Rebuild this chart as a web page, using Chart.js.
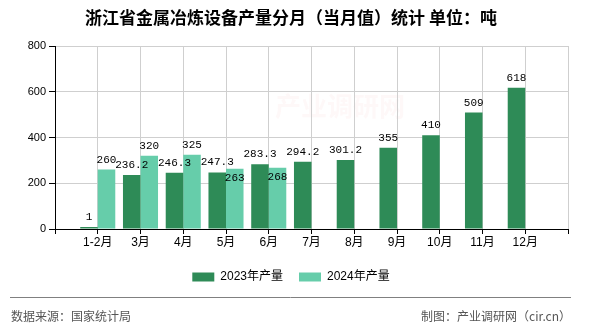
<!DOCTYPE html>
<html>
<head>
<meta charset="utf-8">
<script src="https://cdn.jsdelivr.net/npm/chart.js@4.4.1/dist/chart.umd.min.js"></script>
<style>
    html, body { margin: 0; padding: 0; background: #fff; }
    #wrap { width: 590px; height: 330px; }
</style>
</head>
<body>
<div id="wrap"><canvas id="chart" width="590" height="330"></canvas></div>
<script>
const months = ["1-2月", "3月", "4月", "5月", "6月", "7月", "8月", "9月", "10月", "11月", "12月"];
const output2023 = [1, 236.2, 246.3, 247.3, 283.3, 294.2, 301.2, 355, 410, 509, 618];
const output2024 = [260, 320, 325, 263, 268];
const seriesNames = ["2023年产量", "2024年产量"];
const yTicks = [0, 200, 400, 600, 800];

const FONT = "'Liberation Sans', 'Noto Sans CJK SC', sans-serif";
const CJK = "'Noto Sans CJK SC', 'Liberation Sans', sans-serif";
const LABEL_FONT = "11px 'Liberation Mono', 'DejaVu Sans Mono', monospace";

// empty slot on each side so the months sit on the grid lines
const labels = ["", ...months, ""];
const pad = (arr) => [null, ...months.map((_, i) => (arr[i] === undefined ? null : arr[i])), null];

function overlaps(a, b) {
    return a.l < b.r && b.l < a.r && a.t < b.b && b.t < a.b;
}

// value labels over the bars; a label that would hit an earlier one drops into its bar
const valueLabels = {
    id: "valueLabels",
    afterDatasetsDraw(chart) {
        const ctx = chart.ctx;
        ctx.save();
        ctx.font = LABEL_FONT;
        ctx.fillStyle = "#000";
        ctx.textAlign = "center";
        ctx.textBaseline = "alphabetic";
        const placed = [];
        chart.data.datasets.forEach((ds, di) => {
            const meta = chart.getDatasetMeta(di);
            meta.data.forEach((bar, i) => {
                const v = ds.data[i];
                if (v === null || v === undefined) return;
                const text = String(v);
                const w = ctx.measureText(text).width - 4;
                let base = bar.y - 7;
                let box = { l: bar.x - w / 2, r: bar.x + w / 2, t: base - 8, b: base };
                if (placed.some((p) => overlaps(p, box))) {
                    base = bar.y + 12;
                    box = { l: box.l, r: box.r, t: base - 8, b: base };
                }
                placed.push(box);
                ctx.fillText(text, bar.x, base);
            });
        });
        ctx.restore();
    },
};

const footer = {
    id: "footer",
    beforeDraw(chart) {
        const ctx = chart.ctx;
        ctx.save();
        ctx.font = "bold 26px " + CJK;
        ctx.fillStyle = "rgba(235, 150, 150, 0.07)";
        ctx.textAlign = "center";
        ctx.textBaseline = "middle";
        ctx.fillText("产业调研网", 340, 106);
        ctx.restore();
    },
    afterDraw(chart) {
        const ctx = chart.ctx;
        ctx.save();
        ctx.strokeStyle = "#808080";
        ctx.lineWidth = 1;
        ctx.beginPath();
        ctx.moveTo(10, 297.5);
        ctx.lineTo(571, 297.5);
        ctx.stroke();
        ctx.font = "12px " + CJK;
        ctx.fillStyle = "#555";
        ctx.textBaseline = "middle";
        ctx.textAlign = "left";
        ctx.fillText("数据来源：国家统计局", 11, 316);
        ctx.textAlign = "right";
        ctx.fillText("制图：产业调研网（cir.cn）", 571, 316);
        ctx.restore();
    },
};

new Chart(document.getElementById("chart"), {
    type: "bar",
    data: {
        labels: labels,
        datasets: [
            {
                label: seriesNames[0],
                data: pad(output2023),
                backgroundColor: "#2E8B57",
                categoryPercentage: 0.82,
                barPercentage: 1.0,
                minBarLength: 2,
            },
            {
                label: seriesNames[1],
                data: pad(output2024),
                backgroundColor: "#66CDAA",
                categoryPercentage: 0.82,
                barPercentage: 1.0,
            },
        ],
    },
    options: {
        responsive: false,
        devicePixelRatio: 1,
        animation: false,
        layout: { padding: { left: 14, right: 22, top: 0, bottom: 37 } },
        plugins: {
            title: {
                display: true,
                text: "浙江省金属冶炼设备产量分月（当月值）统计 单位：吨",
                color: "#000",
                font: { size: 17, weight: "bold", family: CJK },
                padding: { top: 7, bottom: 18.6 },
            },
            legend: {
                position: "bottom",
                labels: {
                    boxWidth: 22,
                    boxHeight: 9,
                    padding: 16,
                    color: "#000",
                    font: { size: 12, family: FONT },
                },
            },
            tooltip: { enabled: false },
        },
        scales: {
            x: {
                offset: false,
                grid: { color: "#cfcfcf", offset: false, tickColor: "#000", tickLength: 5 },
                border: { color: "#000" },
                ticks: {
                    color: "#000",
                    autoSkip: false,
                    maxRotation: 0,
                    padding: 1,
                    font: { size: 12, family: FONT },
                },
                afterFit: (scale) => { scale.height = 26; },
            },
            y: {
                min: yTicks[0],
                max: yTicks[yTicks.length - 1],
                grid: { color: "#cfcfcf", tickColor: "#000", tickLength: 6 },
                border: { color: "#000" },
                ticks: {
                    stepSize: yTicks[1] - yTicks[0],
                    color: "#000",
                    padding: 3,
                    font: { size: 11, family: FONT },
                },
                afterFit: (scale) => { scale.width = 41; },
            },
        },
    },
    plugins: [valueLabels, footer],
});
</script>
</body>
</html>
